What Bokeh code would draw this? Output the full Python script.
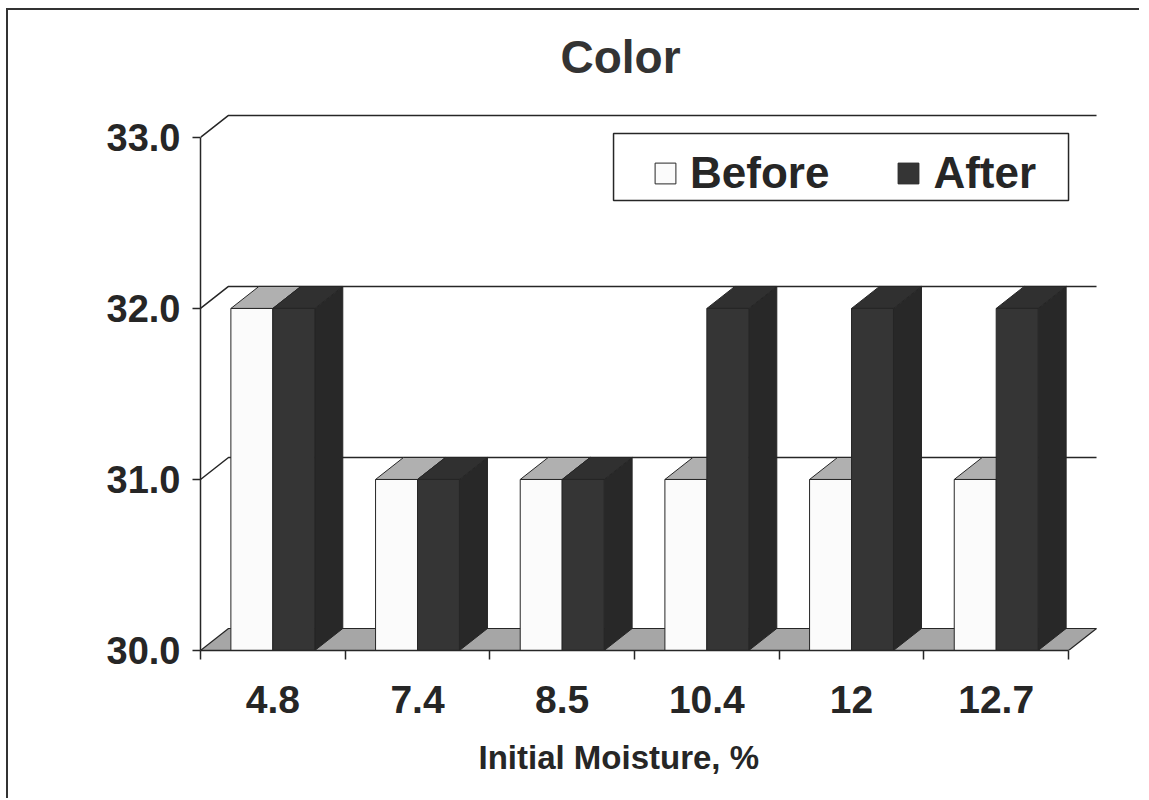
from bokeh.plotting import figure
from bokeh.models import Range1d, FixedTicker, Legend, LegendItem, Title, PrintfTickFormatter, BoxAnnotation
from bokeh.embed import file_html
from bokeh.resources import INLINE

categories = ["4.8", "7.4", "8.5", "10.4", "12", "12.7"]
before = [32.0, 31.0, 31.0, 31.0, 31.0, 31.0]
after = [32.0, 31.0, 31.0, 32.0, 32.0, 32.0]
y_ticks = [30.0, 31.0, 32.0, 33.0]
series_names = ["Before", "After"]
title_text = "Color"
x_title = "Initial Moisture, %"

FONT = "Liberation Sans"
INK = "#262626"
BASE = y_ticks[0]
TOP = y_ticks[-1]
n = len(categories)
DX, DY = 0.1935, 0.1287   # 3-D depth offset (data units)
BW = 0.29                  # bar width

p = figure(width=1133, height=790, output_backend="svg", toolbar_location=None,
           x_range=Range1d(0, 6.221), y_range=Range1d(30, 33.216),
           min_border_left=192, min_border_right=41, min_border_top=90,
           min_border_bottom=150)
p.outline_line_color = None
p.grid.visible = False
p.background_fill_color = "white"
p.styles = {"border-left": "2px solid #333", "border-top": "2px solid #333",
            "margin-left": "6px", "margin-top": "8px"}

# walls and floor
p.patch([DX, n + DX, n + DX, DX], [BASE + DY, BASE + DY, TOP + DY, TOP + DY],
        fill_color="white", line_color=None)
p.patch([0, DX, DX, 0], [BASE, BASE + DY, TOP + DY, TOP], fill_color="white", line_color=None)
p.patch([0, n, n + DX, DX], [BASE, BASE, BASE + DY, BASE + DY],
        fill_color="#a6a6a6", line_color=INK, line_width=1.2)
p.multi_line([[0, DX, n + DX] for v in y_ticks[1:]],
             [[v, v + DY, v + DY] for v in y_ticks[1:]],
             line_color=INK, line_width=1.5)

styles = [
    dict(front="#fbfbfb", top="#b0b0b0", side="#e8e8e8"),
    dict(front="#353535", top="#303030", side="#282828"),
]
front_renderers = []
for s, vals in enumerate([before, after]):
    x0 = [i + 0.5 - BW + s * BW for i in range(n)]
    x1 = [a + BW for a in x0]
    st = styles[s]
    p.patches([[b, b + DX, b + DX, b] for b in x1],
              [[BASE, BASE + DY, v + DY, v] for v in vals],
              fill_color=st["side"], line_color=INK, line_width=1)
    p.patches([[a, b, b + DX, a + DX] for a, b in zip(x0, x1)],
              [[v, v, v + DY, v + DY] for v in vals],
              fill_color=st["top"], line_color=INK, line_width=1)
    r = p.quad(left=x0, right=x1, bottom=[BASE] * n, top=vals,
               fill_color=st["front"], line_color=INK, line_width=1)
    front_renderers.append(r)

# axes
ya = p.yaxis[0]
ya.ticker = FixedTicker(ticks=y_ticks)
ya.formatter = PrintfTickFormatter(format="%.1f")
ya.bounds = (BASE, TOP)
ya.major_tick_out = 8
ya.major_tick_in = 0
ya.minor_tick_out = 0
ya.minor_tick_in = 0
ya.axis_line_color = INK
ya.axis_line_width = 1.5
ya.major_tick_line_color = INK
ya.major_tick_line_width = 1.5
ya.major_label_standoff = 12
ya.major_label_text_font = FONT
ya.major_label_text_font_style = "bold"
ya.major_label_text_font_size = "38px"
ya.major_label_text_color = INK

xa = p.xaxis[0]
centers = [i + 0.5 for i in range(n)]
xa.ticker = FixedTicker(ticks=centers, minor_ticks=list(range(n + 1)))
xa.major_label_overrides = {c: lab for c, lab in zip(centers, categories)}
xa.bounds = (0, n)
xa.major_tick_out = 0
xa.major_tick_in = 0
xa.major_tick_line_color = None
xa.minor_tick_out = 9
xa.minor_tick_in = 0
xa.minor_tick_line_color = INK
xa.minor_tick_line_width = 1.5
xa.axis_line_color = INK
xa.axis_line_width = 1.5
xa.major_label_standoff = 26
xa.major_label_text_font = FONT
xa.major_label_text_font_style = "bold"
xa.major_label_text_font_size = "39px"
xa.major_label_text_color = INK

# title and axis title
p.title.text = title_text
p.title.align = "left"
p.title.vertical_align = "top"
p.title.offset = 360
p.title.standoff = 31
p.title.text_font = FONT
p.title.text_font_style = "bold"
p.title.text_font_size = "46px"
p.title.text_color = "#333333"

p.add_layout(Title(text=x_title, align="left", offset=278, standoff=42, text_font=FONT,
                   text_font_style="bold", text_font_size="33px", text_color=INK), "below")

# legend box and legend
p.add_layout(BoxAnnotation(left=2.855, right=6.0, top=33.023, bottom=32.632,
                           fill_color="white", fill_alpha=1, line_color=INK, line_alpha=1,
                           line_width=1.5))
legend = Legend(items=[LegendItem(label=nm, renderers=[r]) for nm, r in zip(series_names, front_renderers)],
                orientation="horizontal", location=(452, 452))
legend.label_text_font = FONT
legend.label_text_font_style = "bold"
legend.label_text_font_size = "44px"
legend.label_text_color = INK
legend.glyph_width = 26
legend.glyph_height = 26
legend.label_standoff = 12
legend.spacing = 66
legend.padding = 8
legend.margin = 0
legend.border_line_color = None
legend.background_fill_alpha = 0
p.add_layout(legend, "center")

open("out.html", "w").write(file_html(p, INLINE))
